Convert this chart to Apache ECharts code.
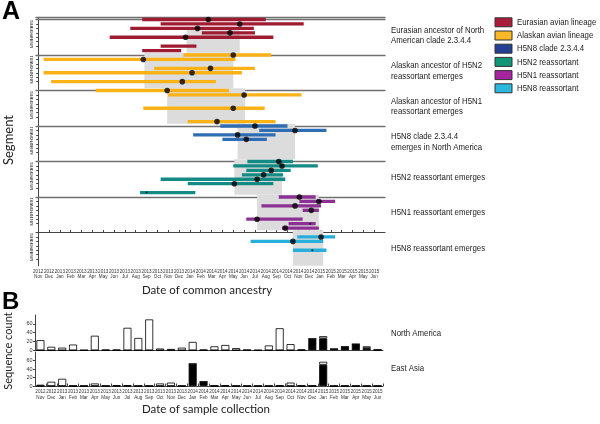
<!DOCTYPE html>
<html><head><meta charset="utf-8">
<script src="https://cdn.jsdelivr.net/npm/echarts@6/dist/echarts.min.js"></script>
<style>html,body{margin:0;padding:0;background:#fff}#c{width:600px;height:424px}</style>
</head><body><div id="c"></div>
<script>
// ---------- data ----------
const monthLabels = ['2012\nNov','2012\nDec','2013\nJan','2013\nFeb','2013\nMar','2013\nApr','2013\nMay','2013\nJun','2013\nJul','2013\nAug','2013\nSep','2013\nOct','2013\nNov','2013\nDec','2014\nJan','2014\nFeb','2014\nMar','2014\nApr','2014\nMay','2014\nJun','2014\nJul','2014\nAug','2014\nSep','2014\nOct','2014\nNov','2014\nDec','2015\nJan','2015\nFeb','2015\nMar','2015\nApr','2015\nMay','2015\nJun'];
const segments = ['PB2','PB1','PA','H5','NP','NA','M','NS'];
const panelNA = ['N8','N2','N1','N8','N2','N1','N8'];
const panelTitles = ['Eurasian ancestor of North\nAmerican clade 2.3.4.4','Alaskan ancestor of H5N2\nreassortant emerges','Alaskan ancestor of H5N1\nreassortant emerges','H5N8 clade 2.3.4.4\nemerges in North America','H5N2 reassortant emerges','H5N1 reassortant emerges','H5N8 reassortant emerges'];
const panelLineage = ['Eurasian avian lineage','Alaskan avian lineage','Alaskan avian lineage','H5N8 clade 2.3.4.4','H5N2 reassortant','H5N1 reassortant','H5N8 reassortant'];
// [segment row, lower 95% HPD, upper 95% HPD, median (months since Nov 2012), weak]
const eurasianAncestor = [[0,9.6,21.0,15.7],[1,11.3,24.5,18.6],[2,8.5,19.9,14.7],[3,15.1,20.0,17.7],[4,6.6,21.7,13.6],[6,11.3,14.6,null],[7,9.6,13.2,null]];
const alaskanH5N2Ancestor = [[0,13.4,21.5,18.0],[1,0.5,18.2,9.7],[3,10.7,20.0,15.9],[4,0.5,18.8,14.2],[6,1.2,16.4,13.3]];
const alaskanH5N1Ancestor = [[0,5.3,17.6,11.9],[1,12.0,24.3,19.0],[4,9.7,20.9,18.0],[7,13.8,21.9,16.5]];
const h5n8Clade = [[0,16.8,23.0,20.0],[1,20.4,26.6,23.7],[2,14.3,21.9,18.4],[3,17.0,21.1,19.2]];
const h5n2Reassortant = [[0,19.3,23.5,22.2],[1,18.0,25.8,22.5],[2,19.2,23.3,21.5],[3,18.8,22.6,20.8],[4,11.3,22.8,20.2],[5,13.8,21.7,18.1],[7,9.4,14.5,10.0,1]];
const h5n1Reassortant = [[0,22.2,25.6,24.1],[1,24.1,27.4,25.9],[2,20.6,26.1,23.7],[3,24.4,25.9,25.2],[5,19.2,24.4,20.2],[6,23.1,25.6,25.1,1],[7,22.5,25.9,22.8]];
const h5n8Reassortant = [[1,23.9,27.4,26.1],[2,19.6,26.3,23.5],[4,23.5,26.6,25.3,1]];
const panelBars = [eurasianAncestor,alaskanH5N2Ancestor,alaskanH5N1Ancestor,h5n8Clade,h5n2Reassortant,h5n1Reassortant,h5n8Reassortant];
const emergenceSpans = [[13.7,18.6],[9.8,18.0],[11.9,19.1],[18.4,23.7],[18.1,22.5],[20.2,25.9],[23.5,26.3]];
const spanFirstRow = [2.6,0,0,0,0,0,0];
const lineageNames = ['Eurasian avian lineage','Alaskan avian lineage','H5N8 clade 2.3.4.4','H5N2 reassortant','H5N1 reassortant','H5N8 reassortant'];
const regions = ['North America','East Asia'];
const naOther = [23,8,6,13,0,33,1,1,51,28,70,4,3,6,19,1,9,12,5,1,0,11,50,14,2,0,5,0,0,0,4,0];
const naClade = [0,0,0,0,0,0,0,0,0,0,0,0,0,0,0,0,0,0,0,0,0,0,0,0,0,26,27,3,8,14,5,1];
const eaOther = [3,10,17,0,0,6,0,2,2,0,0,6,8,0,0,0,1,2,0,0,0,0,1,8,1,1,7,0,0,0,0,0];
const eaClade = [0,0,0,0,0,0,0,0,0,0,0,0,0,0,52,10,0,0,0,0,0,0,0,0,0,0,50,0,0,0,0,0];

// ---------- style ----------
const barColors = {'Eurasian avian lineage':'#9e1b32','Alaskan avian lineage':'#fbb217','H5N8 clade 2.3.4.4':'#2e6db4','H5N2 reassortant':'#138a84','H5N1 reassortant':'#8c3193','H5N8 reassortant':'#27aedb'};
const legendColors = ['#a81c3c','#fbb829','#253f95','#119778','#a6249c','#2bb8dc'];
const A_LEFT=36, A_W=349, A_TOP=17.3, A_H=35.5, XMIN=-0.2, XMAX=32;
const sans = 'Liberation Sans, Arial, sans-serif';
const cal = 'Lato, "Open Sans", sans-serif';
const NARROW = 0.8;

const grid=[], xAxis=[], yAxis=[], series=[], graphic=[];
const sepLine = {lineStyle:{color:'#707070',width:1.3}};
for(let p=0;p<7;p++){
  grid.push({left:A_LEFT,top:A_TOP+p*A_H,width:A_W,height:A_H});
  const last = p===6;
  xAxis.push({gridIndex:p,type:'value',min:XMIN,max:XMAX,
    axisLine:last?{lineStyle:{color:'#444',width:1}}:sepLine,
    axisTick:{show:last,inside:true,length:2.5,customValues:monthLabels.map((_,i)=>i),lineStyle:{color:'#444'}},
    axisLabel:{show:last,customValues:monthLabels.map((_,i)=>i),formatter:v=>monthLabels[Math.round(v)]||'',fontSize:4.6,lineHeight:5.6,color:'#333',margin:3,fontFamily:sans},
    splitLine:{show:false}});
  yAxis.push({gridIndex:p,type:'value',min:-0.5,max:7.5,inverse:true,
    axisLine:{show:true,lineStyle:{color:'#444',width:1}},
    axisTick:{show:true,length:2,customValues:[0,1,2,3,4,5,6,7],lineStyle:{color:'#444'}},
    axisLabel:{customValues:[0,1,2,3,4,5,6,7],formatter:v=>{v=Math.round(v);return v===5?panelNA[p]:segments[v];},rotate:90,fontSize:4.2,color:'#333',margin:2,fontFamily:sans},
    splitLine:{show:false}});
}
// top separator of first panel
xAxis.push({gridIndex:0,type:'value',position:'top',min:XMIN,max:XMAX,axisLine:sepLine,axisTick:{show:false},axisLabel:{show:false},splitLine:{show:false}});

for(let p=0;p<7;p++){
  const lin = panelLineage[p], col = barColors[lin];
  const sp = emergenceSpans[p];
  series.push({type:'scatter',xAxisIndex:p,yAxisIndex:p,data:[],silent:true,z:1,
    markArea:{silent:true,itemStyle:{color:'#dcdcdc'},data:[[{xAxis:sp[0],yAxis:spanFirstRow[p]-0.5},{xAxis:sp[1],yAxis:7.5}]]}});
  series.push({type:'custom',name:lin,xAxisIndex:p,yAxisIndex:p,z:3,itemStyle:{color:col},
    encode:{x:[1,2],y:0},
    data:panelBars[p].map(d=>[d[0],d[1],d[2]]),
    renderItem:(params,api)=>{
      const r=api.value(0), a=api.coord([api.value(1),r]), b=api.coord([api.value(2),r]);
      const h=3.3;
      return {type:'rect',shape:{x:a[0],y:a[1]-h/2,width:b[0]-a[0],height:h},style:{fill:col}};
    }});
  series.push({type:'scatter',name:'median',xAxisIndex:p,yAxisIndex:p,z:4,silent:true,
    data:panelBars[p].filter(d=>d[3]!=null).map(d=>({value:[d[3],d[0]],symbolSize:d[4]?2:5.6})),
    itemStyle:{color:'#000'}});
  const two = panelTitles[p].includes('\n');
  graphic.push({type:'text',x:391,y:A_TOP+p*A_H+A_H/2,scaleX:NARROW,
    style:{text:panelTitles[p],font:'9.8px '+sans,fill:'#222',lineHeight:10.5,verticalAlign:'middle'}});
}

// legend (drawn as rect + text)
lineageNames.forEach((n,i)=>{
  const cy = 22.3 + i*13.2;
  graphic.push({type:'rect',shape:{x:495,y:cy-4.5,width:17,height:9},style:{fill:legendColors[i],stroke:'#333',lineWidth:1}});
  graphic.push({type:'text',x:517,y:cy,scaleX:NARROW,style:{text:n,font:'9.8px '+sans,fill:'#222',verticalAlign:'middle'}});
});

// ---------- panel B ----------
const B_LEFT=35, B_W=348;
grid.push({left:B_LEFT,top:315,width:B_W,height:35.3});
grid.push({left:B_LEFT,top:352,width:B_W,height:34});
[7,8].forEach((g,i)=>{
  const last=i===1;
  xAxis.push({gridIndex:g,type:'category',data:monthLabels,
    axisLine:{lineStyle:{color:'#444',width:1}},
    axisTick:{show:last,inside:true,length:2.5,lineStyle:{color:'#444'}},
    axisLabel:{show:last,interval:0,fontSize:4.6,lineHeight:5.6,color:'#333',margin:3,fontFamily:sans}});
  yAxis.push({gridIndex:g,type:'value',min:0,max:80,
    axisLine:{show:true,lineStyle:{color:'#444',width:1}},
    axisTick:{show:true,length:2,customValues:[0,20,40,60]},
    axisLabel:{customValues:[0,20,40,60],fontSize:5.5,color:'#333',margin:2.5,fontFamily:sans},
    splitLine:{show:false}});
});
const bStyle = {black:{color:'#000',borderColor:'#000',borderWidth:0.8},white:{color:'#fff',borderColor:'#000',borderWidth:0.8}};
[[naClade,naOther],[eaClade,eaOther]].forEach((pair,i)=>{
  series.push({type:'bar',name:'clade 2.3.4.4',xAxisIndex:8+i,yAxisIndex:7+i,stack:'s'+i,data:pair[0],barWidth:8,itemStyle:bStyle.black,silent:true});
  series.push({type:'bar',name:'other',xAxisIndex:8+i,yAxisIndex:7+i,stack:'s'+i,data:pair[1],barWidth:8,itemStyle:bStyle.white,silent:true});
  graphic.push({type:'text',x:391,y:i===0?333:368,scaleX:NARROW,style:{text:regions[i],font:'9.8px '+sans,fill:'#222',verticalAlign:'middle'}});
});

graphic.push(
  {type:'text',left:2,top:0,style:{text:'A',font:'bold 25px '+sans,fill:'#000'}},
  {type:'text',left:2,top:290,style:{text:'B',font:'bold 24px '+sans,fill:'#000'}},
  {type:'text',x:207,y:284,style:{text:'Date of common ancestry',font:'11.5px '+cal,fill:'#222',align:'center'}},
  {type:'text',x:206,y:403,style:{text:'Date of sample collection',font:'11.5px '+cal,fill:'#222',align:'center'}},
  {type:'text',x:2,y:140,rotation:Math.PI/2,style:{text:'Segment',font:'13px '+cal,fill:'#222',align:'center'}},
  {type:'text',x:3,y:351,rotation:Math.PI/2,style:{text:'Sequence count',font:'11px '+cal,fill:'#222',align:'center'}}
);

const chart = echarts.init(document.getElementById('c'),null,{renderer:'canvas'});
chart.setOption({animation:false, grid, xAxis, yAxis, series, graphic});
</script></body></html>
